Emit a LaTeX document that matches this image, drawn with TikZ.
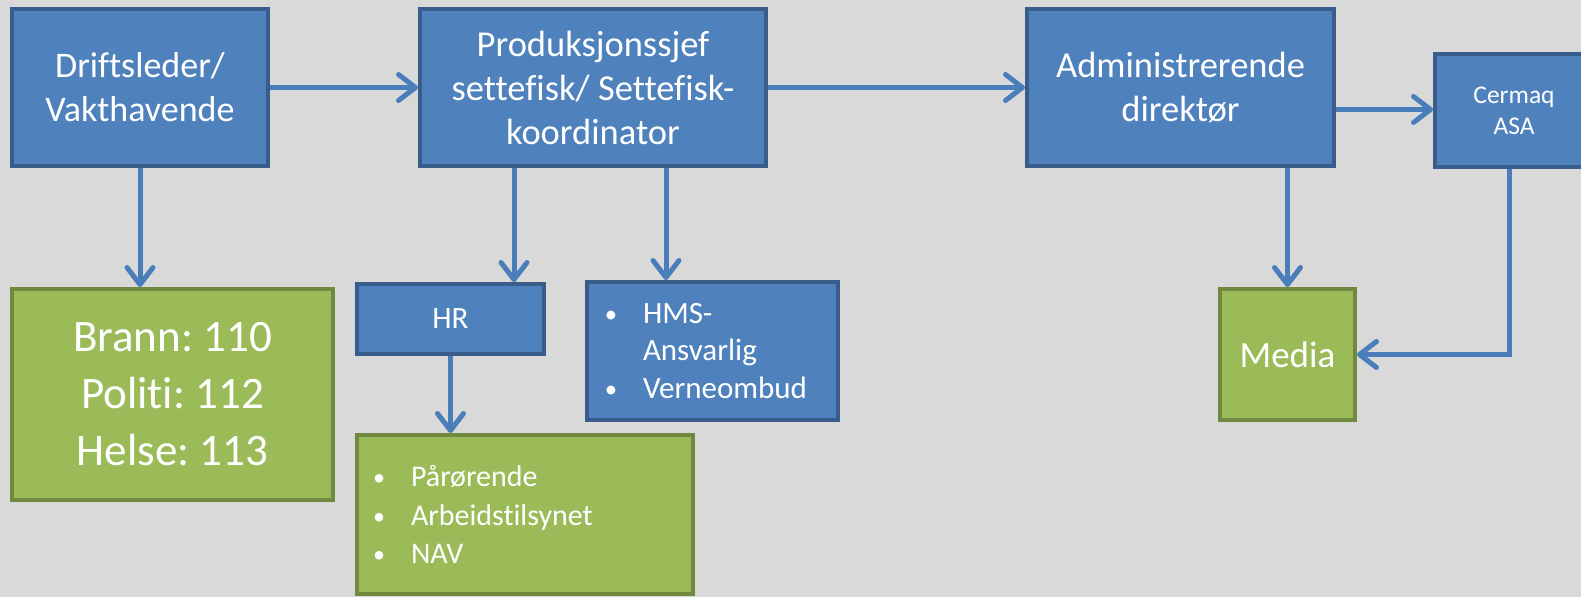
\documentclass[tikz,border=0pt]{standalone}
\usepackage{fontspec}
\usepackage{graphicx}
\setmainfont{Carlito}[Ligatures={NoCommon}]
\usetikzlibrary{arrows.meta}
\definecolor{bg}{RGB}{217,217,217}
\definecolor{bluefill}{RGB}{79,129,189}
\definecolor{blueline}{RGB}{56,93,138}
\definecolor{greenfill}{RGB}{155,187,89}
\definecolor{greenline}{RGB}{113,137,63}
\definecolor{arrowblue}{RGB}{74,126,187}
\newcommand{\blt}{\makebox[32pt][l]{\makebox[0pt]{\raisebox{1pt}{\scalebox{0.8}{•}}}}}
\newcommand{\nblt}{\makebox[32pt][l]{}}
\frenchspacing
\begin{document}
\begin{tikzpicture}[x=1pt,y=-1pt,
  box/.style={draw=blueline,fill=bluefill,line width=4pt,text=white,align=center,inner sep=0pt},
  gbox/.style={box,draw=greenline,fill=greenfill},
  conn/.style={draw=arrowblue,line width=5pt,-{Straight Barb[length=17pt,width=26pt,round]}}
]
\fill[bg] (0,0) rectangle (1581,597);
\useasboundingbox (0,0) rectangle (1581,597);

\node[box,minimum width=256pt,minimum height=157pt,font=\fontsize{36}{44}\selectfont] (drift) at (140,87.5) {Driftsleder/\\Vakthavende};
\node[box,minimum width=346pt,minimum height=157pt,font=\fontsize{36.5}{44}\selectfont] (prod) at (593,87.5) {Produksjonssjef\\settefisk/ Settefisk-\\koordinator};
\node[box,minimum width=307pt,minimum height=157pt,font=\fontsize{36.5}{44}\selectfont] (admin) at (1180.5,87.5) {Administrerende\\direktør};
\node[box,minimum width=158pt,minimum height=113pt,font=\fontsize{25.5}{31}\selectfont] (cermaq) at (1514,110.5) {Cermaq\\ASA};

\node[gbox,minimum width=321pt,minimum height=211pt,font=\fontsize{45}{57}\selectfont] (brann) at (172.5,394.5) {Brann: 110\\Politi: 112\\Helse: 113};
\node[box,minimum width=187pt,minimum height=70pt,font=\fontsize{31}{37}\selectfont] (hr) at (450.5,319) {HR};
\node[box,minimum height=138pt,text width=203pt,inner xsep=24pt,align=left,font=\fontsize{31}{37.5}\selectfont] (hms) at (712.5,351) {\blt HMS-\\\nblt Ansvarlig\\\blt Verneombud};
\node[gbox,minimum height=159pt,text width=292pt,inner xsep=22pt,align=left,font=\fontsize{30}{38.5}\selectfont] (paar) at (525,514.5) {\blt Pårørende\\\blt Arbeidstilsynet\\\blt NAV};
\node[gbox,minimum width=135pt,minimum height=131pt,font=\fontsize{37}{44}\selectfont] (media) at (1287.5,354.5) {Media};

\coordinate (ac) at ([yshift=-22pt]admin.east);
\coordinate (p1) at ([xshift=-79pt]prod.south);
\coordinate (p2) at ([xshift=73pt]prod.south);
\coordinate (cs) at ([xshift=-5pt]cermaq.south);

\draw[conn] (drift.east) -- (prod.west);
\draw[conn] (prod.east) -- (admin.west);
\draw[conn] (ac) -- (ac -| cermaq.west);
\draw[conn] (drift.south) -- (drift.south |- brann.north);
\draw[conn] (p1) -- (p1 |- hr.north);
\draw[conn] (p2) -- (p2 |- hms.north);
\draw[conn] (hr.south) -- (hr.south |- paar.north);
\draw[conn] (media.north |- admin.south) -- (media.north);
\draw[conn] (cs) |- (media.east);
\end{tikzpicture}
\end{document}
